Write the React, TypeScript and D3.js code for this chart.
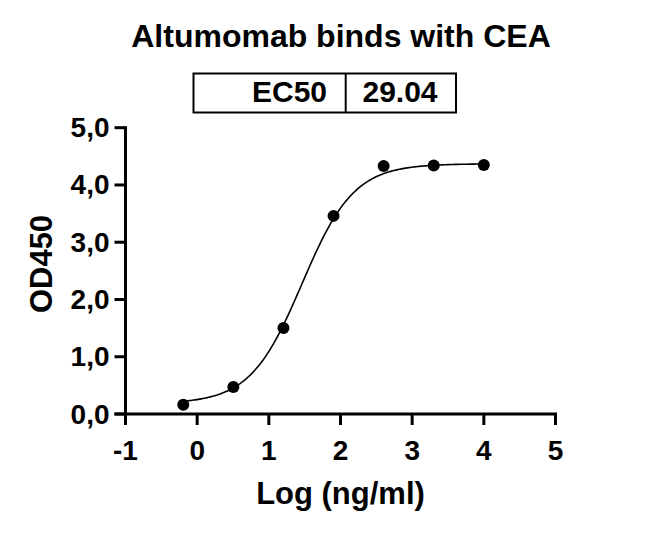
import React from "react";
import * as d3 from "d3";

// Data
const logConc = [-0.194, 0.505, 1.204, 1.903, 2.602, 3.301, 4.0];
const od450 = [0.16, 0.47, 1.5, 3.46, 4.33, 4.34, 4.35];
const xTicks = [-1, 0, 1, 2, 3, 4, 5];
const xTickLabels = ["-1", "0", "1", "2", "3", "4", "5"];
const yTicks = [0, 1, 2, 3, 4, 5];
const yTickLabels = ["0,0", "1,0", "2,0", "3,0", "4,0", "5,0"];
// 4PL fit parameters
const fitBottom = 0.18;
const fitTop = 4.37;
const ec50 = 29.04;
const hill = 1.2;
const tableLabels = ["EC50", "29.04"];
const title = "Altumomab binds with CEA";
const xTitle = "Log (ng/ml)";
const yTitle = "OD450";

const W = 650;
const H = 533;
const FONT = "'Liberation Sans', Arial, Helvetica, sans-serif";

export default function App() {
  const x = d3.scaleLinear().domain([-1, 5]).range([125.5, 555.5]);
  const y = d3.scaleLinear().domain([0, 5]).range([414, 127.7]);

  const logEC = Math.log10(ec50);
  const fit = (v: number) =>
    fitBottom + (fitTop - fitBottom) / (1 + Math.pow(10, (logEC - v) * hill));
  const xmin = d3.min(logConc) as number;
  const xmax = d3.max(logConc) as number;
  const curvePts: [number, number][] = d3
    .range(0, 201)
    .map((i) => xmin + ((xmax - xmin) * i) / 200)
    .map((v) => [v, fit(v)]);
  const line = d3
    .line<[number, number]>()
    .x((d) => x(d[0]))
    .y((d) => y(d[1]));

  const axisW = 3;
  const tickLen = 11;

  return (
    <svg
      width={W}
      height={H}
      style={{ position: "absolute", left: 0, top: 0, background: "#fff" }}
      fontFamily={FONT}
      fontWeight="bold"
    >
      <rect x={0} y={0} width={W} height={H} fill="#fff" />
      {/* Title */}
      <text x={341} y={46.5} textAnchor="middle" fontSize={32} fill="#000">
        {title}
      </text>
      {/* EC50 table */}
      <rect x={193.5} y={73.5} width={262.5} height={39} fill="none" stroke="#000" strokeWidth={2} />
      <line x1={345.7} x2={345.7} y1={73.5} y2={112.5} stroke="#000" strokeWidth={2} />
      <text x={327} y={101.5} textAnchor="end" fontSize={30} fill="#000">
        {tableLabels[0]}
      </text>
      <text x={400} y={101.5} textAnchor="middle" fontSize={30} fill="#000">
        {tableLabels[1]}
      </text>

      {/* Y axis */}
      <line x1={x(-1)} x2={x(-1)} y1={y(0) + axisW / 2} y2={y(5) - axisW / 2} stroke="#000" strokeWidth={axisW} />
      {yTicks.map((t, i) => (
        <g key={"yt" + t}>
          <line x1={x(-1) - tickLen} x2={x(-1)} y1={y(t)} y2={y(t)} stroke="#000" strokeWidth={axisW} />
          <text x={x(-1) - tickLen - 5} y={y(t) + 9.5} textAnchor="end" fontSize={28} fill="#000">
            {yTickLabels[i]}
          </text>
        </g>
      ))}
      {/* X axis */}
      <line x1={x(-1) - tickLen} x2={x(5) + axisW / 2} y1={y(0)} y2={y(0)} stroke="#000" strokeWidth={axisW} />
      {xTicks.map((t, i) => (
        <g key={"xt" + t}>
          <line x1={x(t)} x2={x(t)} y1={y(0)} y2={y(0) + tickLen} stroke="#000" strokeWidth={axisW} />
          <text x={x(t)} y={459.5} textAnchor="middle" fontSize={28} fill="#000">
            {xTickLabels[i]}
          </text>
        </g>
      ))}

      {/* Axis titles */}
      <text x={340.5} y={503.5} textAnchor="middle" fontSize={31} fill="#000">
        {xTitle}
      </text>
      <text
        transform={`translate(51.5, 264) rotate(-90)`}
        textAnchor="middle"
        fontSize={31}
        fill="#000"
      >
        {yTitle}
      </text>

      {/* Fit curve */}
      <path d={line(curvePts) || ""} fill="none" stroke="#000" strokeWidth={1.6} />
      {/* Points */}
      {logConc.map((v, i) => (
        <circle key={"p" + i} cx={x(v)} cy={y(od450[i])} r={6} fill="#000" />
      ))}
    </svg>
  );
}
